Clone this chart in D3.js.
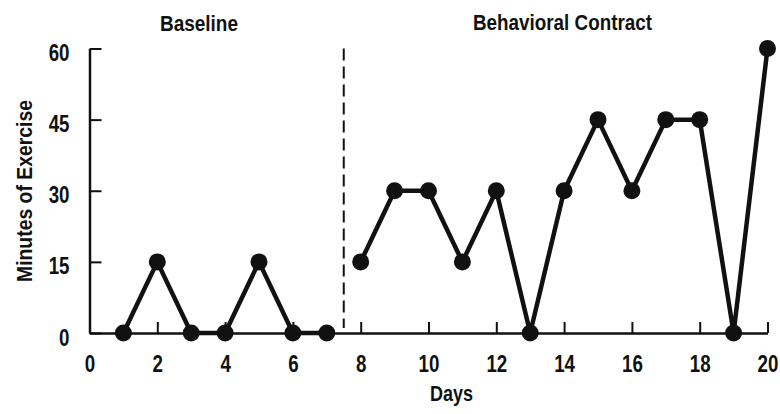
<!DOCTYPE html>
<html><head><meta charset="utf-8">
<script src="https://cdn.jsdelivr.net/npm/d3@7"></script>
<style>
body{margin:0;background:#fff;}
text{font-family:"Liberation Sans",Arial,sans-serif;font-weight:bold;fill:#111;}
</style></head>
<body>
<svg id="c" width="780" height="414"></svg>
<script>
const baselineDays = [1,2,3,4,5,6,7];
const baselineMinutes = [0,15,0,0,15,0,0];
const contractDays = [8,9,10,11,12,13,14,15,16,17,18,19,20];
const contractMinutes = [15,30,30,15,30,0,30,45,30,45,45,0,60];
const xTicks = [0,2,4,6,8,10,12,14,16,18,20];
const yTicks = [0,15,30,45,60];
const phaseLabels = ["Baseline","Behavioral Contract"];
const phaseChange = 7.5;

const svg = d3.select("#c");
const x = d3.scaleLinear().domain([0,20]).range([89.5,767.5]);
const y = d3.scaleLinear().domain([0,60]).range([333,48.5]);
const ink = "#111";

function condense(sel, f){
  sel.each(function(){
    const L = this.getComputedTextLength();
    d3.select(this).attr("textLength", L*f).attr("lengthAdjust","spacingAndGlyphs");
  });
}

// axes
const xAxis = svg.append("g").attr("transform","translate(0,333)")
  .call(d3.axisBottom(x).tickValues(xTicks).tickSizeInner(-11).tickSizeOuter(0).tickPadding(22));
const yAxis = svg.append("g").attr("transform","translate(89.5,0)")
  .call(d3.axisLeft(y).tickValues(yTicks).tickSizeInner(-12).tickSizeOuter(0).tickPadding(20));
[xAxis,yAxis].forEach(g=>{
  g.attr("font-family",null).attr("font-size",null);
  g.select(".domain").attr("stroke",ink).attr("stroke-width",2.5);
  g.selectAll(".tick line").attr("stroke",ink).attr("stroke-width",2);
  g.selectAll(".tick text").attr("fill",ink).style("font-size","24px").style("font-weight","bold");
});
xAxis.selectAll(".tick").filter(d=>d===0).select("line").remove();
xAxis.selectAll(".tick text").attr("dy","0.7em");
yAxis.selectAll(".tick text").attr("dy","0.5em");
condense(xAxis.selectAll(".tick text"), 0.78);
condense(yAxis.selectAll(".tick text"), 0.78);

// phase line
svg.append("line").attr("x1",x(phaseChange)).attr("x2",x(phaseChange))
  .attr("y1",y(60)).attr("y2",328).attr("stroke",ink).attr("stroke-width",2)
  .attr("stroke-dasharray","12,6");

// series
const line = d3.line().x(d=>x(d[0])).y(d=>y(d[1]));
[[baselineDays,baselineMinutes],[contractDays,contractMinutes]].forEach(([ds,vs])=>{
  const pts = ds.map((d,i)=>[d,vs[i]]);
  svg.append("path").datum(pts).attr("d",line).attr("fill","none")
    .attr("stroke",ink).attr("stroke-width",4.5).attr("stroke-linejoin","round");
  svg.selectAll(null).data(pts).enter().append("circle")
    .attr("cx",d=>x(d[0])).attr("cy",d=>y(d[1])).attr("r",8.5).attr("fill",ink);
});

// labels
function label(txt, tx, ty, len, rot){
  const t = svg.append("text").attr("transform",`translate(${tx},${ty})${rot?" rotate(-90)":""}`)
    .attr("text-anchor","middle").style("font-size","22.5px").text(txt);
  t.attr("textLength",len).attr("lengthAdjust","spacingAndGlyphs");
  return t;
}
label(phaseLabels[0], 199, 31, 78);
label(phaseLabels[1], 562.5, 30, 179);
label("Days", 451.5, 401, 43);
label("Minutes of Exercise", 32, 191, 182, true);
</script>
</body></html>
